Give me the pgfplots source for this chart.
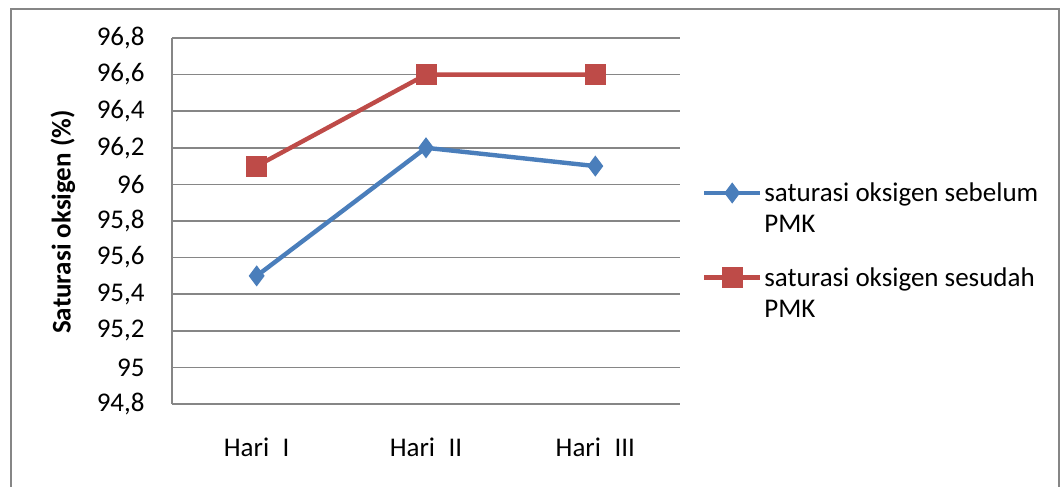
\documentclass[border=0pt]{standalone}
\usepackage{fontspec}
\setmainfont{Carlito}
\usepackage{pgfplots}
\pgfplotsset{compat=1.18}

\definecolor{seriesblue}{HTML}{4A7EBB}
\definecolor{seriesred}{HTML}{BE4B48}
\definecolor{framegray}{HTML}{868686}

\newcommand{\chartfont}{\fontsize{13.5}{15.5}\selectfont}

\begin{document}
\begin{tikzpicture}
  % page area and chart frame
  \useasboundingbox (0,0) rectangle (530pt,243.5pt);
  \fill[white] (0,0) rectangle (530pt,243.5pt);
  \draw[framegray, line width=1pt] (5.5pt,0) -- (5.5pt,239pt) -- (529.5pt,239pt) -- (529.5pt,0);

  \begin{axis}[
    at={(86pt,41.5pt)}, anchor=south west,
    scale only axis, width=254pt, height=183pt,
    xmin=-0.5, xmax=2.5, ymin=94.8, ymax=96.8,
    xtick={0,1,2},
    xticklabels={Hari\hspace{0.5em}I, Hari\hspace{0.5em}II, Hari\hspace{0.5em}III},
    ytick={94.8,95,95.2,95.4,95.6,95.8,96,96.2,96.4,96.6,96.8},
    yticklabel style={/pgf/number format/use comma,
      /pgf/number format/assume math mode=true,
      anchor=east, inner sep=0pt, xshift=-13.5pt},
    xticklabel style={anchor=center, yshift=-21.5pt},
    tick label style={font=\chartfont, text=black},
    major tick length=0pt,
    axis x line*=bottom, axis y line*=left,
    axis line style={framegray, line width=0.75pt, -},
    ymajorgrids, grid style={framegray, line width=0.75pt},
    ylabel={Saturasi oksigen (\%)},
    every axis y label/.style={at={(axis description cs:-0.2146,0.497)},
      rotate=90, anchor=center, font=\chartfont\bfseries},
    legend style={at={(axis description cs:1,1)}, anchor=north west,
      xshift=11pt, yshift=-71pt, draw=none, fill=none,
      inner sep=0pt, outer sep=0pt, row sep=30pt, column sep=1pt,
      font=\chartfont, nodes={inner sep=0pt},
      cells={anchor=base west}},
    legend image code/.code={%
      \draw[mark repeat=2, mark phase=2, #1]
        plot coordinates {(0pt,4.35pt) (14pt,4.35pt) (28pt,4.35pt)};},
    clip=false,
  ]
    \addplot[seriesblue, line width=2.2pt, mark=diamond*, mark size=4.8pt,
      mark options={solid, fill=seriesblue, draw=seriesblue, line width=0.6pt}]
      coordinates {(0,95.5) (1,96.2) (2,96.1)};
    \addlegendentry{\begin{tabular}[t]{@{}l@{}}saturasi oksigen sebelum\\PMK\end{tabular}}

    \addplot[seriesred, line width=2.2pt, mark=square*, mark size=5pt,
      mark options={solid, fill=seriesred, draw=seriesred, line width=0.3pt}]
      coordinates {(0,96.1) (1,96.6) (2,96.6)};
    \addlegendentry{\begin{tabular}[t]{@{}l@{}}saturasi oksigen sesudah\\PMK\end{tabular}}
  \end{axis}
\end{tikzpicture}
\end{document}
